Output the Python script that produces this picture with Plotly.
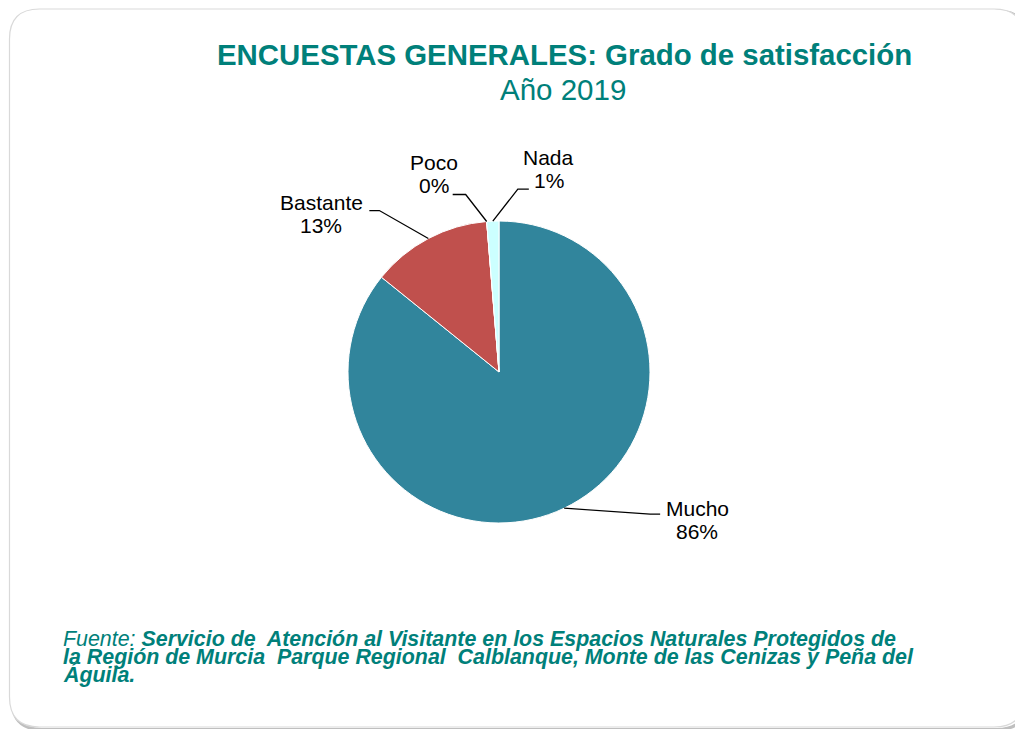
import math
import plotly.graph_objects as go

# ---- data ----
categories = ["Mucho", "Bastante", "Poco", "Nada"]
values = [85.8, 12.9, 0.0, 1.3]
colors = ["#31859C", "#C0504D", "#9BBB59", "#CCFFFF"]

title_main = "ENCUESTAS GENERALES: Grado de satisfacción"
title_sub = "Año 2019"
source_lines = [
    "<i>Fuente: </i><b><i>Servicio de  Atención al Visitante en los Espacios Naturales Protegidos de</i></b>",
    "<b><i>la Región de Murcia  Parque Regional  Calblanque, Monte de las Cenizas y Peña del</i></b>",
    "<b><i>Águila.</i></b>",
]

OFF = 8  # page body margin
W, H = 1023 - OFF, 729 - OFF
TEAL = "#00807A"
FONT = "Liberation Sans, Arial"


def px(x):
    return (x - OFF) / W


def py(y):
    return 1 - (y - OFF) / H


# pie geometry (page pixels)
cx, cy, r = 499, 372, 151

fig = go.Figure()
fig.add_trace(go.Pie(
    labels=categories,
    values=values,
    sort=False,
    direction="clockwise",
    rotation=0,
    marker=dict(colors=colors, line=dict(color="white", width=1)),
    textinfo="none",
    hoverinfo="label+percent",
    showlegend=False,
    domain=dict(x=[px(cx - r), px(cx + r)], y=[py(cy + r), py(cy - r)]),
))

# leader-line layout per label: elbow offset from edge, horizontal run, label offset from end
leader = {
    "Mucho":    dict(elbow=(86, 6),    run=10,  lab=(37, 6)),
    "Bastante": dict(elbow=(-49, -28), run=-10, lab=(-48, 3)),
    "Poco":     dict(elbow=(-21, -27), run=-13, lab=(-19, -21)),
    "Nada":     dict(elbow=(25, -32),  run=11,  lab=(20, -20)),
}

total = sum(values)
shapes = []
annotations = []
cum = 0.0
for cat, v in zip(categories, values):
    mid = (cum + v / 2) / total * 2 * math.pi
    cum += v
    ex = cx + r * math.sin(mid)
    ey = cy - r * math.cos(mid)
    L = leader[cat]
    bx, by = ex + L["elbow"][0], ey + L["elbow"][1]
    qx, qy = bx + L["run"], by
    path = f"M {px(ex)},{py(ey)} L {px(bx)},{py(by)} L {px(qx)},{py(qy)}"
    shapes.append(dict(type="path", xref="paper", yref="paper", path=path,
                       line=dict(color="black", width=1.3)))
    pct = round(v / total * 100)
    lx, ly = qx + L["lab"][0], qy + L["lab"][1]
    for k, txt in enumerate([cat, f"{pct}%"]):
        annotations.append(dict(
            x=px(lx), y=py(ly - 11.5 + 23 * k), xref="paper", yref="paper",
            text=txt, showarrow=False, align="center",
            xanchor="center", yanchor="middle",
            font=dict(family=FONT, size=21, color="black"),
        ))


# frame (rounded rectangle) with soft shadow
def rounded(x0, y0, x1, y1, rad):
    return (f"M {px(x0 + rad)},{py(y0)} L {px(x1 - rad)},{py(y0)} "
            f"Q {px(x1)},{py(y0)} {px(x1)},{py(y0 + rad)} "
            f"L {px(x1)},{py(y1 - rad)} Q {px(x1)},{py(y1)} {px(x1 - rad)},{py(y1)} "
            f"L {px(x0 + rad)},{py(y1)} Q {px(x0)},{py(y1)} {px(x0)},{py(y1 - rad)} "
            f"L {px(x0)},{py(y0 + rad)} Q {px(x0)},{py(y0)} {px(x0 + rad)},{py(y0)} Z")


shapes.insert(0, dict(type="path", xref="paper", yref="paper", layer="below",
                      path=rounded(12, 11, 1027, 729.5, 30),
                      line=dict(color="#BFBFBF", width=3)))
shapes.insert(1, dict(type="path", xref="paper", yref="paper", layer="below",
                      path=rounded(9.5, 9, 1024, 727, 30),
                      fillcolor="white", line=dict(color="#D9D9D9", width=1.2)))

# titles
annotations.append(dict(x=px(564.5), y=py(55), xref="paper", yref="paper",
                        text=f"<b>{title_main}</b>", showarrow=False,
                        xanchor="center", yanchor="middle",
                        font=dict(family=FONT, size=29.4, color=TEAL)))
annotations.append(dict(x=px(563), y=py(90), xref="paper", yref="paper",
                        text=title_sub, showarrow=False,
                        xanchor="center", yanchor="middle",
                        font=dict(family=FONT, size=29.5, color=TEAL)))

# source lines
for i, line in enumerate(source_lines):
    annotations.append(dict(x=px(61), y=py(639 + i * 17.5), xref="paper", yref="paper",
                            text=line, showarrow=False,
                            xanchor="left", yanchor="middle",
                            font=dict(family=FONT, size=21.4, color=TEAL)))

fig.update_layout(
    width=W, height=H,
    margin=dict(l=0, r=0, t=0, b=0),
    paper_bgcolor="white",
    plot_bgcolor="white",
    shapes=shapes,
    annotations=annotations,
)

fig.write_html("out.html")
